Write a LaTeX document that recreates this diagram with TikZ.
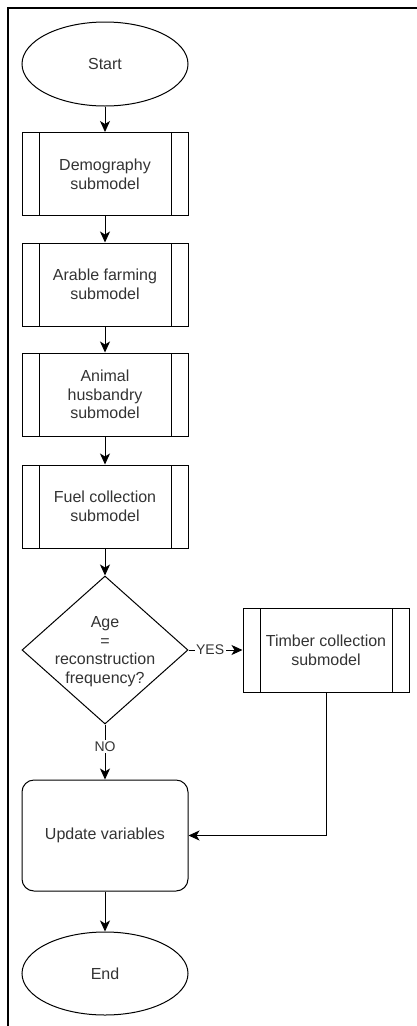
\documentclass[tikz,border=0pt]{standalone}
\usepackage{fontspec}
\setmainfont{Liberation Sans}
\usetikzlibrary{shapes.geometric,arrows.meta}
\definecolor{ink}{HTML}{333333}
\tikzset{
  every node/.style={text=ink, font=\fontsize{16}{18.7}\selectfont, align=center},
  lineclr/.style={line width=1pt, draw=black},
  terminal/.style={lineclr, ellipse, minimum width=166pt, minimum height=84pt, inner sep=0pt},
  subproc/.style={lineclr, rectangle, minimum width=166pt, minimum height=83pt, inner sep=0pt,
    path picture={
      \draw[line width=1pt] ([xshift=17pt]path picture bounding box.north west) -- ([xshift=17pt]path picture bounding box.south west);
      \draw[line width=1pt] ([xshift=-17pt]path picture bounding box.north east) -- ([xshift=-17pt]path picture bounding box.south east);
    }},
  procbox/.style={lineclr, rectangle, rounded corners=12pt, minimum width=166pt, minimum height=111pt, inner sep=0pt},
  decision/.style={lineclr, diamond, minimum width=166pt, minimum height=148pt, inner sep=0pt},
  flow/.style={lineclr, -{Stealth[length=11pt, width=10pt, inset=3pt]}},
  edgelabel/.style={fill=white, inner sep=1.5pt, font=\fontsize{14}{16}\selectfont},
}
\begin{document}
\begin{tikzpicture}[x=1pt, y=-1pt]
  \useasboundingbox (0,0) rectangle (417,1026);
  % outer frame
  \draw[line width=1.2pt] (8,1026) -- (8,8) -- (417,8);

  % main column
  \node[terminal] (start) at (105,64) {Start};
  \node[subproc] (demo) at (105,174) {Demography\\submodel};
  \node[subproc] (arable) at (105,284.5) {Arable farming\\submodel};
  \node[subproc] (animal) at (105,394.5) {Animal\\husbandry\\submodel};
  \node[subproc] (fuel) at (105,506.5) {Fuel collection\\submodel};
  \node[decision] (dec) at (105,650) {};
  \node (dectext) at (105,651.5) {Age\\=\\reconstruction\\frequency?};
  \node[subproc, minimum height=84pt] (timber) at (326,650) {Timber collection\\submodel};
  \node[procbox] (update) at (105,835.5) {Update variables};
  \node[terminal, minimum height=83pt] (end) at (105,973.5) {End};

  % connectors
  \draw[flow] (start) -- (demo);
  \draw[flow] (demo) -- (arable);
  \draw[flow] (arable) -- (animal);
  \draw[flow] (animal) -- (fuel);
  \draw[flow] (fuel) -- (dec);
  \draw[flow] (dec.east) -- node[edgelabel, pos=0.4] (yes) {YES} (timber.west);
  \draw[flow] (dec.south) -- node[edgelabel, pos=0.4] (no) {NO} (update.north);
  \draw[flow] (timber.south) |- (update.east);
  \draw[flow] (update) -- (end);
\end{tikzpicture}
\end{document}
